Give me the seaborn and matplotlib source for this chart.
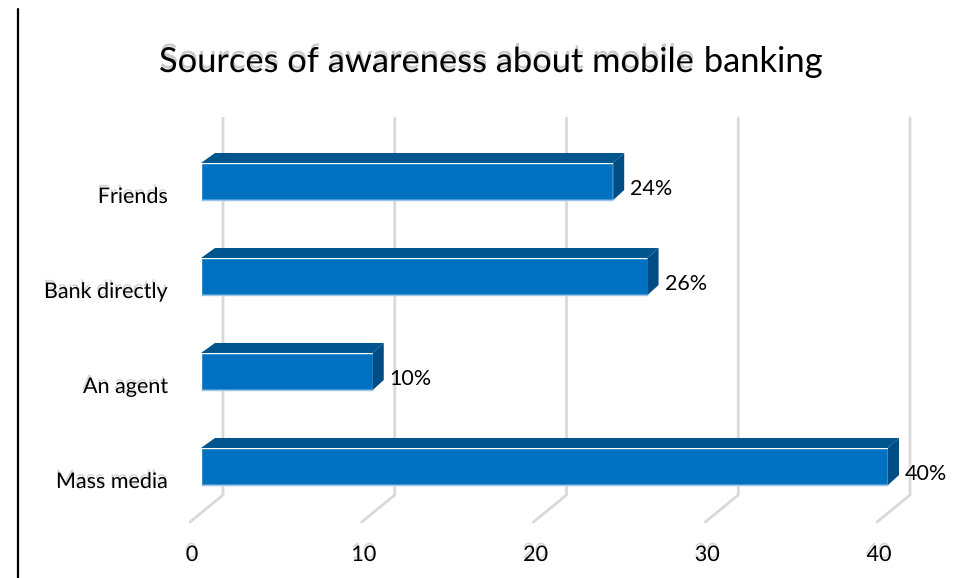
import matplotlib
matplotlib.use("Agg")
import matplotlib.pyplot as plt
import matplotlib.patheffects as pe
from matplotlib.lines import Line2D
from matplotlib.patches import Polygon
from matplotlib.transforms import ScaledTranslation
import numpy as np
import pandas as pd
import seaborn as sns

# Survey data
categories = ["Friends", "Bank directly", "An agent", "Mass media"]
shares = [24, 26, 10, 40]
value_labels = ["24%", "26%", "10%", "40%"]
x_ticks = [0, 10, 20, 30, 40]
title_head = "Sources of awareness about mobile"
title_tail = " banking"

FRONT = "#0070C0"
TOP = "#00558F"
SIDE = "#004C85"
GRID = "#D9D9D9"

sns.set_theme(style="white")
plt.rcParams["font.family"] = ["Lato", "DejaVu Sans"]

W, H, DPI = 958, 578, 100
fig = plt.figure(figsize=(W / DPI, H / DPI), dpi=DPI)
fig.patch.set_facecolor("white")

# plot box in pixels (from top-left)
left_px, right_px, top_px, bot_px = 201, 888, 134, 514
ax = fig.add_axes([left_px / W, 1 - bot_px / H, (right_px - left_px) / W, (bot_px - top_px) / H])
ax.set_zorder(2)

df = pd.DataFrame({"source": categories, "share": shares})
sns.barplot(data=df, x="share", y="source", orient="h", color=FRONT,
            width=0.39, saturation=1, ax=ax, zorder=3)
ax.set_xlim(0, 40)
ax.set_ylim(len(categories) - 0.5, -0.5)
for s in ax.spines.values():
    s.set_visible(False)
ax.set_xlabel("")
ax.set_ylabel("")
ax.set_facecolor("none")

fig.canvas.draw()
to_disp = ax.transData.transform
to_data = ax.transData.inverted().transform
inv_fig = fig.transFigure.inverted()


def shift(pt, dx, dy):
    d = to_disp(pt) + np.array([dx, dy])
    return to_data(d)


# depth of the bar boxes in pixels
DX, DY = 11, 10
for patch in ax.patches:
    x0 = patch.get_x()
    x1 = x0 + patch.get_width()
    ytop = patch.get_y()  # smaller index = upper edge on inverted axis
    ybot = ytop + patch.get_height()
    top_face = [(x0, ytop), (x1, ytop), shift((x1, ytop), DX, DY), shift((x0, ytop), DX + 3, DY)]
    side_face = [(x1, ytop), shift((x1, ytop), DX, DY), shift((x1, ybot), DX, DY), (x1, ybot)]
    ax.add_patch(Polygon(top_face, closed=True, facecolor=TOP, edgecolor="none", zorder=3, clip_on=False))
    ax.add_patch(Polygon(side_face, closed=True, facecolor=SIDE, edgecolor="none", zorder=3, clip_on=False))
    ax.plot([x0, x1], [ybot, ybot], color="#9DC3E6", lw=1, zorder=3.5, clip_on=False, solid_capstyle="butt")

# back wall gridlines and floor lines (behind the plot box)
for v in x_ticks:
    X = to_disp((v, 0))[0]
    pts_px = [(X + 22, H - 118), (X + 22, H - 495), (X - 11, H - 522)]
    pts = inv_fig.transform(pts_px)
    fig.add_artist(Line2D(pts[:, 0], pts[:, 1], color=GRID, lw=2, zorder=0.5))

# value labels
for i, (v, lab) in enumerate(zip(shares, value_labels)):
    off = ScaledTranslation(17 / DPI, -7.5 / DPI, fig.dpi_scale_trans)
    ax.text(v, i, lab, ha="left", va="center", fontsize=15.5, color="black",
            transform=ax.transData + off, zorder=5)

shadow = [pe.withSimplePatchShadow(offset=(-0.6, 2.0), shadow_rgbFace="#8c8c8c", alpha=0.35)]

# category and value axis labels
ax.set_xticks(x_ticks)
ax.set_xticklabels([str(t) for t in x_ticks])
ax.tick_params(axis="both", length=0, pad=0, labelsize=15.5, labelcolor="black")
for lbl in ax.get_xticklabels():
    lbl.set_va("center")
    lbl.set_path_effects(shadow)
    lbl.set_transform(lbl.get_transform() + ScaledTranslation(-9 / DPI, -41 / DPI, fig.dpi_scale_trans))
for lbl in ax.get_yticklabels():
    lbl.set_ha("right")
    lbl.set_path_effects(shadow)
    lbl.set_transform(lbl.get_transform() + ScaledTranslation(-33 / DPI, -13.5 / DPI, fig.dpi_scale_trans))

# title in two runs: the first words carry a soft ghost
title_y = 1 - 72 / H
t_head = fig.text(0, title_y, title_head, ha="left", va="baseline", fontsize=24.8, color="black",
                  path_effects=[pe.withSimplePatchShadow(offset=(0.5, 2.6), shadow_rgbFace="#8c8c8c", alpha=0.45)])
t_tail = fig.text(0, title_y, title_tail, ha="left", va="baseline", fontsize=24.8, color="black")
fig.canvas.draw()
r = fig.canvas.get_renderer()
w_head = t_head.get_window_extent(r).width
w_tail = t_tail.get_window_extent(r).width
x_start = 491 - (w_head + w_tail) / 2
t_head.set_x(x_start / W)
t_tail.set_x((x_start + w_head) / W)

# frame line at the left edge
fig.add_artist(Line2D([18 / W, 18 / W], [0, 1 - 9 / H], color="black", lw=1.6))

fig.savefig("out.png", dpi=DPI, facecolor="white")
